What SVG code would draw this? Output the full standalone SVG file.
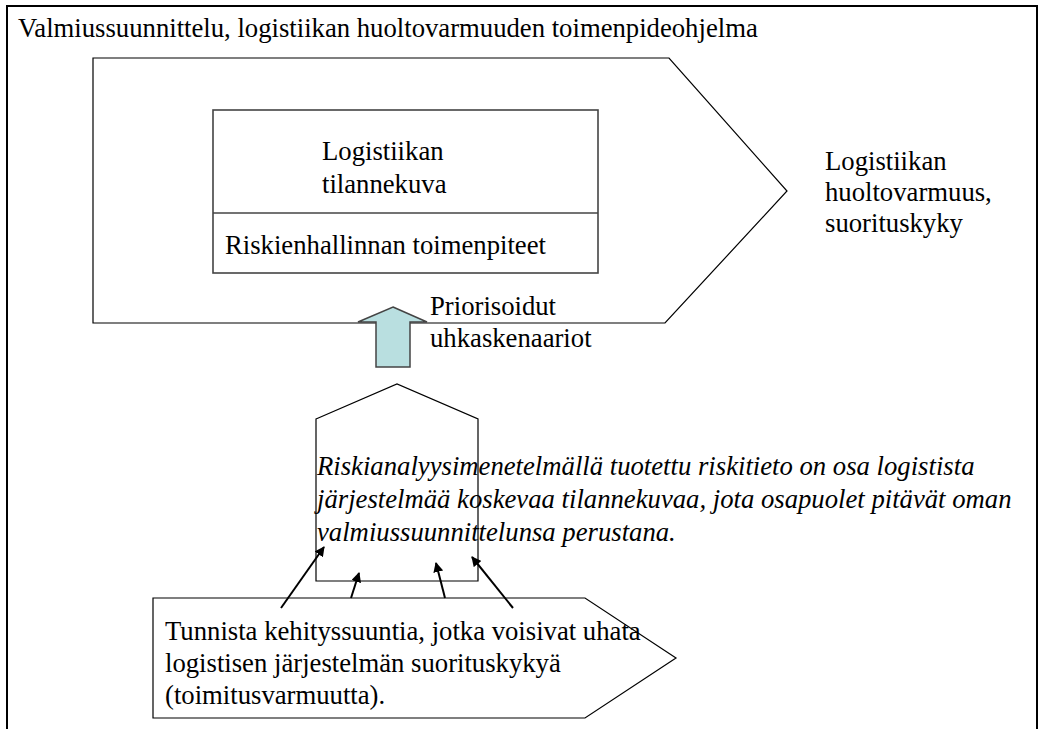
<svg xmlns="http://www.w3.org/2000/svg" width="1044" height="729" viewBox="0 0 1044 729">
  <style>
    .t { font-family: "Liberation Serif", "Times New Roman", serif; font-size: 26.7px; fill: #000; }
    .it { font-style: italic; }
    .shape { fill: #fff; stroke: #000; stroke-width: 1.2; }
    .box { fill: none; stroke: #444; stroke-width: 1.6; }
    .link { stroke: #000; stroke-width: 2; fill: none; marker-end: url(#head); }
  </style>
  <defs>
    <marker id="head" viewBox="0 0 10 10" refX="9" refY="5" markerWidth="5" markerHeight="5" markerUnits="strokeWidth" orient="auto">
      <path d="M0,0 L10,5 L0,10 z" fill="#000"/>
    </marker>
  </defs>

  <rect width="1044" height="729" fill="#fff"/>

  <!-- outer frame, open at the bottom -->
  <g id="frame">
    <path d="M7,729 V6 H1037 V729" fill="none" stroke="#000" stroke-width="2"/>
    <text class="t" x="18" y="37">Valmiussuunnittelu, logistiikan huoltovarmuuden toimenpideohjelma</text>
  </g>

  <!-- large process chevron -->
  <g id="programme">
    <polygon class="shape" points="93,58 669,58 787,191 665,323 93,323"/>
  </g>

  <!-- situation picture box -->
  <g id="situation">
    <rect class="box" x="213" y="110" width="385" height="163"/>
    <line class="box" x1="213" y1="213" x2="598" y2="213"/>
    <text class="t" x="322" y="160">Logistiikan</text>
    <text class="t" x="322" y="193">tilannekuva</text>
    <text class="t" x="225" y="254">Riskienhallinnan toimenpiteet</text>
  </g>

  <!-- outcome label -->
  <g id="outcome">
    <text class="t" x="825" y="170">Logistiikan</text>
    <text class="t" x="825" y="201">huoltovarmuus,</text>
    <text class="t" x="825" y="232">suorituskyky</text>
  </g>

  <!-- block arrow up with its label -->
  <g id="prioritised">
    <polygon points="393,307 427,322 410,322 410,367 376,367 376,322 358,322" fill="#b9dfe0" stroke="#444" stroke-width="1.5"/>
    <text class="t" x="430" y="315">Priorisoidut</text>
    <text class="t" x="430" y="347">uhkaskenaariot</text>
  </g>

  <!-- risk analysis pentagon -->
  <g id="analysis">
    <polygon class="shape" points="316,419 397,384 478,419 478,581 316,581"/>
  </g>

  <!-- identification chevron -->
  <g id="identify">
    <polygon class="shape" points="153,598 585,598 676,658 585,718 153,718"/>
    <text class="t" x="165" y="640">Tunnista kehityssuuntia, jotka voisivat uhata</text>
    <text class="t" x="165" y="672">logistisen järjestelmän suorituskykyä</text>
    <text class="t" x="165" y="704">(toimitusvarmuutta).</text>
  </g>

  <!-- italic note over the analysis shape -->
  <g id="note">
    <text class="t it" x="317" y="475">Riskianalyysimenetelmällä tuotettu riskitieto on osa logistista</text>
    <text class="t it" x="317" y="508">järjestelmää koskevaa tilannekuvaa, jota osapuolet pitävät oman</text>
    <text class="t it" x="317" y="541">valmiussuunnittelunsa perustana.</text>
  </g>

  <!-- connectors -->
  <g id="connectors">
    <line class="link" x1="281" y1="608" x2="324" y2="547"/>
    <line class="link" x1="351" y1="598" x2="359" y2="573"/>
    <line class="link" x1="445" y1="598" x2="436" y2="563"/>
    <line class="link" x1="513" y1="608" x2="472" y2="557"/>
  </g>
</svg>
